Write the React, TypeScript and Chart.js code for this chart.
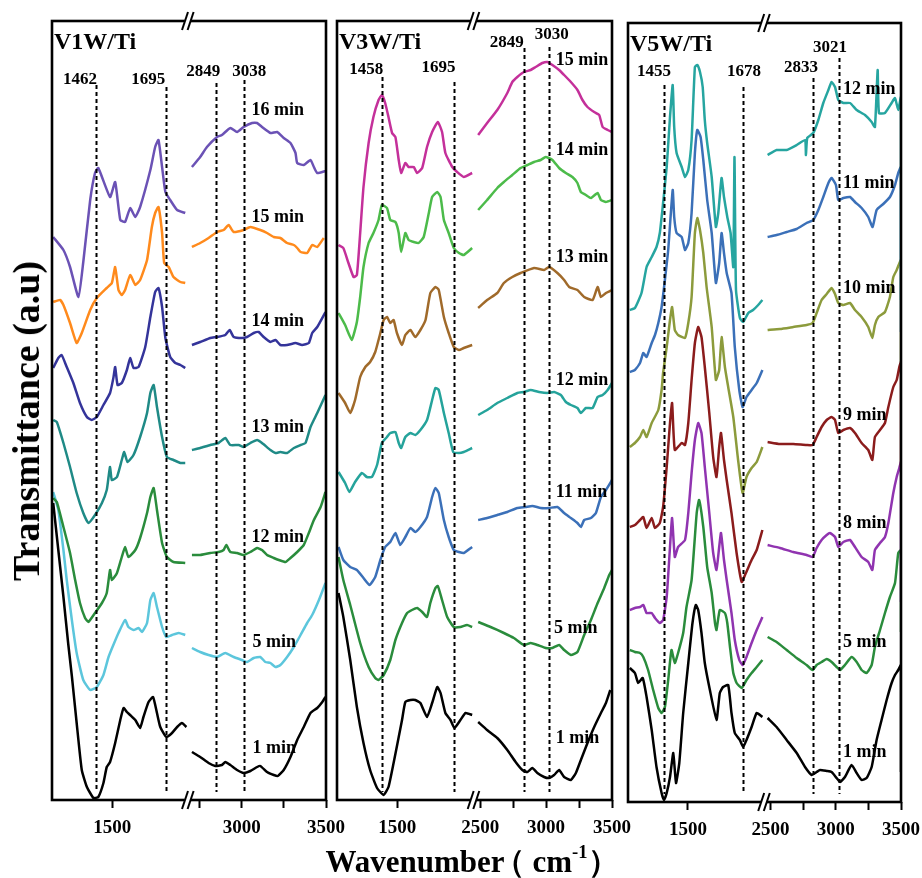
import React, { useEffect, useRef } from 'react';
import { Chart, registerables } from 'chart.js';
Chart.register(...registerables);

type Pt = [number, number];

// ---------------- Panel 1: V1W/Ti ----------------
const v1w16L: Pt[] = [[1304,563],[1338,550],[1360,533],[1388,503],[1404,538],[1427,600],[1443,627],[1454,632],[1493,603],[1510,618],[1527,580],[1543,578],[1560,592],[1577,583],[1593,593],[1627,630],[1643,653],[1654,660],[1666,633],[1677,608],[1693,600],[1716,590],[1743,587]];
const v1w16R: Pt[] = [[2704,633],[2753,643],[2793,653],[2853,663],[2882,665],[2932,672],[2972,668],[3011,673],[3061,677],[3091,677],[3120,673],[3170,667],[3210,668],[3249,662],[3289,657],[3319,647],[3329,637],[3368,635],[3408,640],[3428,633],[3448,627],[3497,629]];
const v1w15L: Pt[] = [[1304,498],[1327,500],[1338,495],[1360,477],[1382,457],[1399,467],[1427,490],[1449,502],[1482,512],[1499,517],[1510,533],[1521,510],[1532,505],[1543,510],[1560,525],[1577,515],[1593,520],[1616,540],[1632,573],[1643,587],[1654,593],[1666,567],[1673,537],[1688,533],[1704,523],[1727,518],[1743,517]];
const v1w15R: Pt[] = [[2704,553],[2753,557],[2803,562],[2853,568],[2892,570],[2922,575],[2952,568],[3011,570],[3051,573],[3110,570],[3150,567],[3190,563],[3229,562],[3269,557],[3309,555],[3329,552],[3349,548],[3388,547],[3418,555],[3448,553],[3487,562]];
const v1w14L: Pt[] = [[1304,432],[1321,442],[1332,445],[1349,433],[1371,417],[1393,397],[1416,383],[1432,380],[1449,383],[1471,395],[1493,407],[1504,422],[1510,433],[1518,415],[1532,417],[1549,430],[1560,442],[1571,432],[1588,433],[1610,453],[1627,483],[1643,508],[1654,512],[1666,493],[1677,462],[1693,443],[1710,437],[1727,435],[1743,432]];
const v1w14R: Pt[] = [[2704,455],[2753,458],[2813,462],[2853,463],[2902,465],[2928,470],[2952,463],[3001,462],[3031,463],[3071,467],[3100,468],[3130,463],[3170,458],[3200,460],[3229,455],[3269,455],[3319,457],[3358,455],[3398,457],[3418,467],[3448,473],[3497,488]];
const v1w13L: Pt[] = [[1304,380],[1316,378],[1338,357],[1360,333],[1382,307],[1404,287],[1421,277],[1443,285],[1466,297],[1482,310],[1488,323],[1493,333],[1499,320],[1516,323],[1532,340],[1540,348],[1551,338],[1571,345],[1593,363],[1616,387],[1627,407],[1638,415],[1649,393],[1666,363],[1682,343],[1704,340],[1727,337],[1743,337]];
const v1w13R: Pt[] = [[2704,350],[2753,352],[2813,355],[2862,357],[2902,362],[2932,355],[2982,355],[3011,353],[3051,357],[3091,360],[3120,357],[3170,350],[3200,347],[3229,348],[3269,347],[3309,352],[3349,355],[3378,357],[3408,373],[3448,387],[3497,405]];
const v1w12L: Pt[] = [[1304,302],[1316,298],[1338,273],[1360,247],[1377,220],[1393,197],[1410,182],[1421,178],[1443,187],[1466,197],[1482,207],[1493,230],[1499,220],[1516,227],[1532,243],[1543,253],[1554,243],[1577,250],[1593,262],[1616,287],[1627,303],[1638,312],[1649,290],[1666,257],[1682,243],[1704,238],[1743,237]];
const v1w12R: Pt[] = [[2704,245],[2753,245],[2813,247],[2862,248],[2892,250],[2908,255],[2932,248],[2972,247],[3011,245],[3051,248],[3091,252],[3120,250],[3150,245],[3190,242],[3220,240],[3259,238],[3289,242],[3329,248],[3368,255],[3398,267],[3428,280],[3468,293],[3497,308]];
const v1w5L: Pt[] = [[1304,308],[1321,290],[1338,250],[1349,220],[1366,180],[1382,147],[1404,120],[1427,110],[1449,113],[1471,125],[1488,143],[1504,155],[1521,167],[1543,180],[1554,173],[1571,170],[1588,172],[1599,168],[1616,177],[1627,200],[1638,207],[1649,193],[1666,173],[1680,163],[1699,165],[1721,167],[1743,165]];
const v1w5R: Pt[] = [[2704,152],[2753,148],[2803,145],[2853,143],[2902,147],[2952,143],[3001,140],[3031,138],[3071,142],[3110,143],[3140,138],[3170,137],[3200,133],[3229,135],[3269,143],[3309,153],[3349,165],[3388,177],[3418,185],[3458,200],[3497,217]];
const v1w1L: Pt[] = [[1304,297],[1321,250],[1338,203],[1354,156],[1366,124],[1382,77],[1399,30],[1416,13],[1438,2],[1454,3],[1471,17],[1482,33],[1493,38],[1510,57],[1527,80],[1538,92],[1549,88],[1560,85],[1577,80],[1593,72],[1604,83],[1621,98],[1636,103],[1649,87],[1660,73],[1680,63],[1699,67],[1716,73],[1732,77],[1747,73]];
const v1w1R: Pt[] = [[2704,48],[2753,43],[2803,37],[2843,34],[2882,35],[2902,38],[2932,35],[2972,30],[3011,27],[3051,29],[3091,33],[3110,34],[3150,28],[3190,25],[3214,24],[3249,30],[3289,43],[3329,60],[3368,73],[3408,87],[3448,92],[3478,98],[3497,103]];

// ---------------- Panel 2: V3W/Ti ----------------
const v3w15L: Pt[] = [[1305,555],[1321,552],[1338,537],[1355,523],[1366,525],[1377,567],[1388,613],[1405,657],[1421,683],[1438,700],[1449,705],[1460,697],[1471,683],[1483,667],[1494,663],[1505,640],[1513,627],[1527,637],[1538,633],[1555,633],[1566,627],[1583,632],[1599,653],[1616,668],[1635,678],[1649,668],[1660,647],[1683,633],[1699,628],[1721,623],[1749,627]];
const v3w15R: Pt[] = [[2485,665],[2553,677],[2630,690],[2706,707],[2744,718],[2782,723],[2832,728],[2883,730],[2921,733],[2972,737],[3010,738],[3048,735],[3099,730],[3137,725],[3188,718],[3238,710],[3276,700],[3314,693],[3365,688],[3403,685],[3429,673],[3467,670],[3500,668]];
const v3w14L: Pt[] = [[1305,487],[1327,475],[1349,460],[1366,478],[1377,503],[1388,533],[1405,557],[1421,567],[1438,580],[1449,595],[1466,592],[1477,580],[1494,578],[1505,567],[1513,548],[1527,567],[1538,560],[1555,558],[1571,557],[1588,563],[1605,587],[1616,603],[1633,608],[1644,603],[1655,580],[1671,567],[1688,552],[1705,547],[1721,545],[1749,552]];
const v3w14R: Pt[] = [[2485,590],[2553,600],[2630,612],[2680,618],[2744,625],[2807,632],[2858,635],[2909,638],[2959,640],[2997,643],[3048,640],[3099,632],[3150,627],[3200,623],[3238,617],[3264,608],[3302,605],[3340,602],[3391,607],[3416,600],[3454,598],[3500,600]];
const v3w13L: Pt[] = [[1305,407],[1327,397],[1344,387],[1360,400],[1377,423],[1394,433],[1410,438],[1427,448],[1444,467],[1455,480],[1466,483],[1477,477],[1488,480],[1499,467],[1516,455],[1527,465],[1544,470],[1560,463],[1577,470],[1594,480],[1610,507],[1627,513],[1638,510],[1655,483],[1671,467],[1688,453],[1705,450],[1721,452],[1749,455]];
const v3w13R: Pt[] = [[2485,492],[2553,500],[2630,507],[2680,517],[2744,523],[2807,527],[2909,532],[2985,530],[3023,533],[3086,527],[3137,520],[3175,513],[3238,510],[3289,503],[3353,500],[3391,513],[3416,503],[3454,507],[3500,510]];
const v3w12L: Pt[] = [[1305,328],[1327,317],[1341,308],[1360,318],[1383,327],[1399,323],[1416,323],[1433,335],[1449,357],[1466,363],[1477,367],[1494,368],[1505,357],[1513,352],[1527,363],[1544,367],[1560,365],[1577,370],[1599,380],[1616,400],[1627,412],[1638,410],[1655,387],[1671,367],[1686,348],[1705,347],[1721,348],[1749,352]];
const v3w12R: Pt[] = [[2485,385],[2553,390],[2630,397],[2706,402],[2782,407],[2832,408],[2883,410],[2947,408],[3010,407],[3061,408],[3112,405],[3150,398],[3188,395],[3238,392],[3264,387],[3302,392],[3353,392],[3391,403],[3429,405],[3467,410],[3500,417]];
const v3w11L: Pt[] = [[1305,253],[1321,240],[1344,233],[1366,230],[1388,222],[1408,215],[1427,223],[1444,240],[1460,253],[1477,258],[1494,267],[1510,255],[1527,263],[1544,272],[1560,268],[1577,273],[1599,283],[1616,303],[1627,312],[1638,307],[1655,280],[1671,263],[1688,250],[1705,248],[1721,247],[1749,253]];
const v3w11R: Pt[] = [[2485,280],[2553,282],[2630,285],[2706,288],[2782,292],[2845,293],[2896,294],[2959,292],[3023,292],[3086,293],[3137,287],[3188,282],[3238,277],[3264,273],[3289,280],[3340,282],[3378,287],[3416,303],[3454,310],[3500,320]];
const v3w5L: Pt[] = [[1305,243],[1321,220],[1344,195],[1377,157],[1405,133],[1427,122],[1438,120],[1455,125],[1477,140],[1494,160],[1516,177],[1533,187],[1549,190],[1566,192],[1583,188],[1599,183],[1610,197],[1627,212],[1635,214],[1649,200],[1666,183],[1688,173],[1710,173],[1732,175],[1749,173]];
const v3w5R: Pt[] = [[2485,178],[2579,173],[2680,167],[2756,162],[2832,155],[2883,157],[2934,155],[2997,152],[3048,152],[3099,155],[3137,150],[3188,145],[3238,148],[3289,165],[3340,180],[3391,197],[3441,212],[3479,225],[3500,230]];
const v3w1L: Pt[] = [[1305,207],[1321,183],[1344,140],[1366,93],[1388,57],[1410,30],[1433,12],[1455,5],[1471,13],[1488,37],[1505,63],[1516,80],[1527,98],[1544,100],[1560,100],[1577,97],[1599,83],[1616,97],[1633,113],[1644,107],[1660,87],[1677,80],[1690,72],[1710,80],[1727,87],[1749,85]];
const v3w1R: Pt[] = [[2485,78],[2553,70],[2630,62],[2706,50],[2769,38],[2820,30],[2858,28],[2896,32],[2934,27],[2985,23],[3023,22],[3061,25],[3099,30],[3137,23],[3188,20],[3226,27],[3264,40],[3314,57],[3365,73],[3416,87],[3454,97],[3487,110]];

// ---------------- Panel 3: V5W/Ti ----------------
const v5w12L: Pt[] = [[1306,492],[1323,494],[1345,509],[1362,535],[1379,545],[1395,555],[1406,569],[1417,599],[1429,635],[1440,685],[1449,717],[1454,675],[1462,649],[1479,635],[1490,625],[1501,632],[1512,662],[1523,735],[1531,737],[1540,730],[1549,715],[1556,682],[1564,659],[1579,625],[1593,575],[1601,589],[1612,624],[1620,605],[1631,585],[1642,569],[1651,535],[1655,645],[1660,512],[1673,484],[1684,480],[1701,489],[1717,492],[1734,497],[1748,502]];
const v5w12R: Pt[] = [[2477,647],[2546,652],[2623,652],[2700,657],[2764,662],[2771,647],[2781,664],[2827,669],[2866,682],[2904,699],[2943,712],[2968,720],[2994,715],[3019,702],[3058,699],[3109,699],[3160,692],[3224,687],[3275,680],[3300,675],[3321,732],[3331,689],[3377,689],[3428,699],[3454,704],[3479,692],[3500,705],[3500,502]];
const v5w11L: Pt[] = [[1306,430],[1323,432],[1340,439],[1351,449],[1362,445],[1379,459],[1390,467],[1401,479],[1412,495],[1423,522],[1434,552],[1449,612],[1454,585],[1462,569],[1479,565],[1490,552],[1501,559],[1512,589],[1523,649],[1531,672],[1542,665],[1551,642],[1564,602],[1579,569],[1593,519],[1604,539],[1612,569],[1620,549],[1629,529],[1645,509],[1656,455],[1671,412],[1682,395],[1695,405],[1712,412],[1729,419],[1748,432]];
const v5w11R: Pt[] = [[2477,565],[2546,567],[2623,570],[2700,573],[2776,579],[2827,582],[2866,592],[2904,605],[2943,619],[2968,624],[3001,617],[3019,602],[3058,604],[3109,605],[3147,600],[3198,594],[3249,585],[3282,575],[3313,592],[3364,598],[3415,605],[3454,617],[3479,629],[3500,635],[3500,470]];
const v5w10L: Pt[] = [[1306,355],[1323,359],[1340,365],[1351,372],[1362,365],[1379,379],[1401,392],[1412,412],[1417,429],[1429,455],[1440,482],[1447,495],[1456,472],[1467,467],[1490,464],[1501,479],[1512,505],[1523,569],[1531,584],[1540,572],[1551,549],[1562,515],[1579,475],[1593,422],[1604,432],[1612,465],[1623,435],[1634,415],[1651,385],[1667,342],[1682,309],[1695,325],[1712,334],[1729,340],[1748,355]];
const v5w10R: Pt[] = [[2477,472],[2572,473],[2674,475],[2776,477],[2822,479],[2853,489],[2891,502],[2930,508],[2968,514],[2994,508],[3019,499],[3058,497],[3109,499],[3147,492],[3198,485],[3249,475],[3280,464],[3300,477],[3326,485],[3377,490],[3415,505],[3441,525],[3467,532],[3500,542],[3500,440]];
const v5w9L: Pt[] = [[1306,275],[1323,277],[1340,282],[1351,285],[1362,274],[1379,284],[1390,274],[1406,279],[1417,295],[1429,335],[1440,379],[1447,399],[1456,352],[1479,359],[1490,357],[1501,379],[1512,422],[1523,459],[1534,475],[1545,465],[1556,435],[1571,389],[1584,345],[1595,325],[1604,355],[1610,369],[1620,342],[1629,322],[1645,289],[1662,249],[1679,220],[1693,229],[1712,242],[1729,252],[1748,272]];
const v5w9R: Pt[] = [[2477,360],[2572,358],[2674,358],[2776,357],[2822,357],[2853,365],[2891,375],[2930,382],[2968,385],[2994,382],[3019,369],[3058,372],[3109,374],[3147,369],[3198,359],[3249,352],[3280,342],[3300,365],[3339,372],[3377,379],[3403,395],[3441,415],[3467,422],[3487,435],[3500,440],[3500,335]];
const v5w8L: Pt[] = [[1306,192],[1323,194],[1340,195],[1351,197],[1362,189],[1379,189],[1390,184],[1406,179],[1417,182],[1429,205],[1440,255],[1447,284],[1456,245],[1467,255],[1490,262],[1501,289],[1512,329],[1523,362],[1534,379],[1545,369],[1556,335],[1571,289],[1584,249],[1595,232],[1604,255],[1610,269],[1620,242],[1629,222],[1645,189],[1656,162],[1671,142],[1682,137],[1695,145],[1712,159],[1729,172],[1748,185]];
const v5w8R: Pt[] = [[2477,257],[2572,254],[2674,250],[2776,247],[2822,245],[2853,254],[2891,262],[2930,267],[2955,269],[2994,265],[3019,255],[3058,260],[3109,262],[3147,255],[3198,245],[3249,240],[3280,232],[3300,252],[3339,259],[3377,265],[3403,279],[3441,309],[3467,325],[3487,334],[3500,340],[3500,200]];
const v5w5L: Pt[] = [[1306,152],[1323,150],[1340,149],[1351,145],[1367,132],[1384,112],[1401,94],[1412,89],[1423,95],[1434,122],[1445,152],[1456,139],[1467,149],[1484,169],[1495,195],[1512,222],[1529,289],[1537,302],[1551,275],[1564,235],[1579,209],[1590,179],[1595,172],[1606,192],[1623,189],[1631,179],[1640,155],[1651,129],[1662,119],[1679,114],[1695,122],[1712,129],[1729,135],[1748,142]];
const v5w5R: Pt[] = [[2477,165],[2546,160],[2623,152],[2700,144],[2776,137],[2822,132],[2853,137],[2891,140],[2930,143],[2968,140],[3006,135],[3032,132],[3070,137],[3121,145],[3160,140],[3198,132],[3236,129],[3275,137],[3300,155],[3339,172],[3377,189],[3415,205],[3454,219],[3479,249],[3500,252],[3500,170]];
const v5w1L: Pt[] = [[1306,134],[1323,129],[1334,119],[1349,124],[1362,105],[1379,72],[1395,35],[1412,9],[1420,2],[1429,9],[1440,25],[1451,49],[1460,19],[1471,39],[1484,89],[1501,139],[1515,179],[1526,197],[1534,192],[1545,169],[1556,139],[1573,112],[1595,82],[1606,109],[1617,115],[1634,117],[1645,89],[1656,69],[1673,62],[1684,55],[1695,62],[1712,75],[1729,89],[1748,85]];
const v5w1R: Pt[] = [[2477,84],[2546,75],[2623,62],[2700,49],[2764,35],[2815,27],[2853,30],[2879,32],[2930,31],[2968,30],[3006,24],[3032,20],[3070,25],[3121,37],[3160,29],[3198,22],[3236,24],[3275,35],[3313,62],[3351,82],[3390,102],[3428,119],[3454,127],[3479,132],[3500,137],[3500,30]];

// ---------------- axes, markers, labels ----------------
const v1wTicks = [1500, 2750, 3000, 3250, 3500];
const v1wTickLabels = ['1500', '', '3000', '', '3500'];
const v3wTicks = [1500, 2500, 2750, 3000, 3250, 3500];
const v3wTickLabels = ['1500', '2500', '', '3000', '', '3500'];
const v5wTicks = [1500, 2500, 2750, 3000, 3250, 3500];
const v5wTickLabels = ['1500', '2500', '', '3000', '', '3500'];

// [label, line position, line top, label x, label y]
const v1wMarkers: [string, number, number, number, number][] = [
  ['1462', 1446, 715, 1393, 720], ['1695', 1680, 713, 1620, 720],
  ['2849', 2849, 717, 2771, 728], ['3038', 3015, 720, 3045, 728],
];
const v3wMarkers: [string, number, number, number, number][] = [
  ['1458', 1449, 723, 1397, 730], ['1695', 1688, 718, 1637, 732],
  ['2849', 2832, 752, 2701, 757], ['3030', 3023, 753, 3043, 765],
];
const v5wMarkers: [string, number, number, number, number][] = [
  ['1455', 1420, 717, 1387, 730], ['1678', 1684, 715, 1687, 730],
  ['2833', 2827, 724, 2733, 734], ['3021', 3027, 744, 2955, 754],
];

// [text, x, y]
const v1wTimes: [string, number, number][] = [
  ['16 min', 3057, 690], ['15 min', 3057, 583], ['14 min', 3057, 479], ['13 min', 3057, 373],
  ['12 min', 3057, 263], ['5 min', 3063, 158], ['1 min', 3063, 52],
];
const v3wTimes: [string, number, number][] = [
  ['15 min', 3074, 740], ['14 min', 3074, 650], ['13 min', 3074, 543], ['12 min', 3074, 420],
  ['11 min', 3074, 308], ['5 min', 3060, 172], ['1 min', 3074, 62],
];
const v5wTimes: [string, number, number][] = [
  ['12 min', 3055, 713], ['11 min', 3055, 619], ['10 min', 3055, 514], ['9 min', 3055, 387],
  ['8 min', 3055, 279], ['5 min', 3055, 160], ['1 min', 3055, 50],
];

const SERIF = '"Liberation Serif", "Times New Roman", serif';

interface Series { color: string; left: Pt[]; right: Pt[] }
interface PanelCfg {
  id: string; title: string;
  frame: { left: number; top: number; width: number; bottom: number };
  axis: { L0: number; L1: number; gap: number; R0: number; k: number; R1: number };
  ticks: number[]; tickLabels: string[];
  series: Series[];
  markers: [string, number, number, number, number][];
  times: [string, number, number][];
}

const panels: PanelCfg[] = [
  {
    id: 'v1w', title: 'V1W/Ti',
    frame: { left: 52, top: 21, width: 274, bottom: 800 },
    axis: { L0: 1300, L1: 1750, gap: 13, R0: 2700, k: 0.56, R1: 3500 },
    ticks: v1wTicks, tickLabels: v1wTickLabels,
    series: [
      { color: '#6b52b5', left: v1w16L, right: v1w16R },
      { color: '#ff8a1c', left: v1w15L, right: v1w15R },
      { color: '#34349a', left: v1w14L, right: v1w14R },
      { color: '#1f8a86', left: v1w13L, right: v1w13R },
      { color: '#2a8c3c', left: v1w12L, right: v1w12R },
      { color: '#5cc6dc', left: v1w5L, right: v1w5R },
      { color: '#000000', left: v1w1L, right: v1w1R },
    ],
    markers: v1wMarkers, times: v1wTimes,
  },
  {
    id: 'v3w', title: 'V3W/Ti',
    frame: { left: 337, top: 21, width: 275, bottom: 800 },
    axis: { L0: 1300, L1: 1750, gap: 16.7, R0: 2480, k: 0.438, R1: 3500 },
    ticks: v3wTicks, tickLabels: v3wTickLabels,
    series: [
      { color: '#c4309a', left: v3w15L, right: v3w15R },
      { color: '#4cbb4a', left: v3w14L, right: v3w14R },
      { color: '#a06a2a', left: v3w13L, right: v3w13R },
      { color: '#25a39b', left: v3w12L, right: v3w12R },
      { color: '#3b70b8', left: v3w11L, right: v3w11R },
      { color: '#2a8c3c', left: v3w5L, right: v3w5R },
      { color: '#000000', left: v3w1L, right: v3w1R },
    ],
    markers: v3wMarkers, times: v3wTimes,
  },
  {
    id: 'v5w', title: 'V5W/Ti',
    frame: { left: 628, top: 23, width: 273, bottom: 802 },
    axis: { L0: 1300, L1: 1750, gap: 16.7, R0: 2480, k: 0.4347, R1: 3500 },
    ticks: v5wTicks, tickLabels: v5wTickLabels,
    series: [
      { color: '#26a5a0', left: v5w12L, right: v5w12R },
      { color: '#3b70b8', left: v5w11L, right: v5w11R },
      { color: '#8c9b3c', left: v5w10L, right: v5w10R },
      { color: '#8b1c1c', left: v5w9L, right: v5w9R },
      { color: '#9034b0', left: v5w8L, right: v5w8R },
      { color: '#2a8c3c', left: v5w5L, right: v5w5R },
      { color: '#000000', left: v5w1L, right: v5w1R },
    ],
    markers: v5wMarkers, times: v5wTimes,
  },
];

const CANVAS_H = 860;
const PAD_X = 32;
const AXIS_H = 45;
const Y_MAX = 779;

function makeMap(a: PanelCfg['axis']) {
  return (w: number) => (w < 2100 ? w - a.L0 : (a.L1 - a.L0) + a.gap + (w - a.R0) * a.k);
}

function Panel({ cfg }: { cfg: PanelCfg }) {
  const ref = useRef<HTMLCanvasElement | null>(null);
  useEffect(() => {
    if (!ref.current) return;
    const map = makeMap(cfg.axis);
    const vmax = map(cfg.axis.R1);
    const gapX = (cfg.axis.L1 - cfg.axis.L0) + cfg.axis.gap / 2;

    const datasets = cfg.series.map((s) => ({
      data: [
        ...s.left.map(([w, v]) => ({ x: map(w), y: v })),
        { x: gapX, y: null as any },
        ...s.right.map(([w, v]) => ({ x: map(w), y: v })),
      ],
      borderColor: s.color,
      backgroundColor: s.color,
      borderWidth: 2.5,
      pointRadius: 0,
      tension: 0.15,
      spanGaps: false,
    }));

    const overlay = {
      id: 'overlay' + cfg.id,
      afterDatasetsDraw(chart: any) {
        const { ctx, chartArea: a } = chart;
        const xs = chart.scales.x;
        const ys = chart.scales.y;
        ctx.save();
        // dashed marker lines
        ctx.setLineDash([4, 3]);
        ctx.lineWidth = 2;
        ctx.strokeStyle = '#000';
        for (const [, w, top] of cfg.markers) {
          const px = Math.round(xs.getPixelForValue(map(w))) + 0.5;
          ctx.beginPath();
          ctx.moveTo(px, ys.getPixelForValue(top));
          ctx.lineTo(px, ys.getPixelForValue(8));
          ctx.stroke();
        }
        ctx.setLineDash([]);
        // marker labels
        ctx.fillStyle = '#000';
        ctx.font = `bold 17px ${SERIF}`;
        ctx.textAlign = 'center';
        ctx.textBaseline = 'middle';
        for (const [label, , , lw, lv] of cfg.markers) {
          ctx.fillText(label, xs.getPixelForValue(map(lw)), ys.getPixelForValue(lv));
        }
        // time labels
        ctx.font = `bold 18px ${SERIF}`;
        ctx.textAlign = 'left';
        for (const [t, w, v] of cfg.times) {
          ctx.fillText(t, xs.getPixelForValue(map(w)), ys.getPixelForValue(v));
        }
        // title
        ctx.font = `bold 24px ${SERIF}`;
        ctx.fillText(cfg.title, a.left + 2, a.top + 21.5);
        // frame
        ctx.lineWidth = 2.6;
        ctx.strokeStyle = '#000';
        ctx.strokeRect(a.left, a.top, a.right - a.left, a.bottom - a.top);
        // break marks
        const bx = xs.getPixelForValue(gapX) - 1.5;
        for (const by of [a.top, a.bottom]) {
          ctx.fillStyle = '#fff';
          ctx.fillRect(bx - 3, by - 2, 6, 4);
          ctx.lineWidth = 2;
          ctx.strokeStyle = '#000';
          for (const d of [-2.8, 2.8]) {
            ctx.beginPath();
            ctx.moveTo(bx + d - 3, by + 9);
            ctx.lineTo(bx + d + 3, by - 9);
            ctx.stroke();
          }
        }
        ctx.restore();
      },
    };

    const chart = new Chart(ref.current, {
      type: 'line',
      data: { datasets: datasets as any },
      options: {
        animation: false,
        responsive: false,
        devicePixelRatio: 1,
        events: [],
        layout: {
          autoPadding: false,
          padding: { left: PAD_X, right: PAD_X, top: cfg.frame.top, bottom: CANVAS_H - AXIS_H - cfg.frame.bottom },
        },
        plugins: { legend: { display: false }, tooltip: { enabled: false } },
        scales: {
          x: {
            type: 'linear',
            min: 0,
            max: vmax,
            afterBuildTicks: (scale: any) => {
              scale.ticks = cfg.ticks.map((w) => ({ value: map(w) }));
            },
            afterFit: (scale: any) => {
              scale.height = AXIS_H;
            },
            ticks: {
              autoSkip: false,
              maxRotation: 0,
              minRotation: 0,
              padding: 9,
              color: '#000',
              font: { family: SERIF, weight: 'bold', size: 19 },
              callback: (_v: any, i: number) => cfg.tickLabels[i],
            },
            grid: {
              display: true,
              drawOnChartArea: false,
              drawTicks: true,
              tickLength: 8,
              tickWidth: 2,
              tickColor: '#000',
              color: '#000',
            },
            border: { display: false },
          },
          y: { display: false, min: 0, max: Y_MAX },
        },
      } as any,
      plugins: [overlay],
    });
    return () => chart.destroy();
  }, [cfg]);

  const w = cfg.frame.width + PAD_X * 2;
  return (
    <canvas
      ref={ref}
      width={w}
      height={CANVAS_H}
      style={{ position: 'absolute', left: cfg.frame.left - PAD_X, top: 0, width: w, height: CANVAS_H }}
    />
  );
}

export default function App() {
  return (
    <div style={{ position: 'absolute', left: 0, top: 0, width: 922, height: 878, background: '#fff', overflow: 'hidden' }}>
      {panels.map((p) => (
        <Panel key={p.id} cfg={p} />
      ))}
      <div
        style={{
          position: 'absolute', left: 26, top: 421, transform: 'translate(-50%, -50%) rotate(-90deg)',
          whiteSpace: 'nowrap', fontFamily: SERIF, fontWeight: 'bold', fontSize: 38, lineHeight: 1, color: '#000',
        }}
      >
        Transmittance (a.u)
      </div>
      <div
        style={{
          position: 'absolute', left: 472, top: 861, transform: 'translate(-50%, -50%)',
          whiteSpace: 'nowrap', fontFamily: SERIF, fontWeight: 'bold', fontSize: 31, lineHeight: 1, color: '#000',
        }}
      >
        Wavenumber<span style={{ marginLeft: '-0.35em' }}>（</span> cm<sup style={{ fontSize: '0.6em', verticalAlign: '0.75em', lineHeight: 0 }}>-1</sup>）
      </div>
    </div>
  );
}
